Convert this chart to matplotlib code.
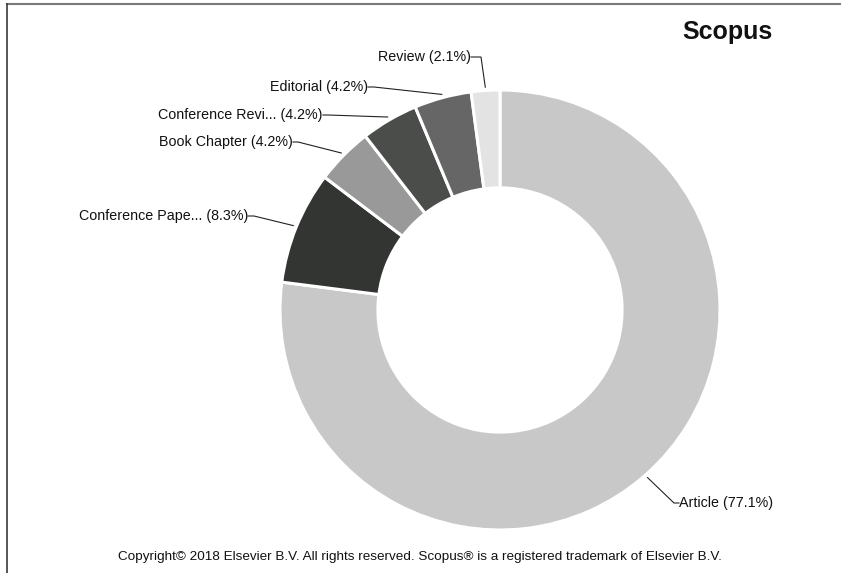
import numpy as np
import matplotlib
matplotlib.use("Agg")
import matplotlib.pyplot as plt
from matplotlib.lines import Line2D

plt.rcParams['font.family'] = ['Liberation Sans', 'DejaVu Sans']

# ---- data ----
categories = ["Article", "Conference Pape...", "Book Chapter",
              "Conference Revi...", "Editorial", "Review"]
percentages = [77.1, 8.3, 4.2, 4.2, 4.2, 2.1]
colors = ["#c8c8c8", "#333533", "#999999", "#4b4d4b", "#666666", "#e3e3e3"]
title = "Scopus"
footer = ("Copyright\u00a9 2018 Elsevier B.V. All rights reserved. "
          "Scopus\u00ae is a registered trademark of Elsevier B.V.")

W, H, DPI = 841, 573, 100
fig = plt.figure(figsize=(W / DPI, H / DPI), dpi=DPI)
ax = fig.add_axes([0, 0, 1, 1])

# pixel layout: centre (500, 310), outer radius 220 px
CX, CY, RPX = 500, 310, 220

def px(x, y):
    return ((x - CX) / RPX, (CY - y) / RPX)

wedges, _ = ax.pie(percentages, colors=colors, startangle=90, counterclock=False,
                   radius=1.0, normalize=True,
                   wedgeprops=dict(width=0.445, edgecolor="white", linewidth=2.2))
ax.set_xlim(-CX / RPX, (W - CX) / RPX)
ax.set_ylim(-(H - CY) / RPX, CY / RPX)
ax.set_aspect('auto')
ax.set_axis_off()

# label layout (pixel positions of text anchor, elbow)
layout = [
    # (text_x, text_y, ha, elbow_x, elbow_y)
    (679, 503, "left", 674, 503),
    (248, 216, "right", 254, 216),
    (293, 142, "right", 298, 142),
    (323, 115, "right", 328, 115),
    (368, 87, "right", 374, 87),
    (471, 57, "right", 481, 57),
]

total = sum(percentages)
cum = 0.0
for cat, val, (tx, ty, ha, ex, ey) in zip(categories, percentages, layout):
    mid = (cum + val / 2) / total * 2 * np.pi
    cum += val
    r0 = 1.015
    sx, sy = r0 * np.sin(mid), r0 * np.cos(mid)
    exd, eyd = px(ex, ey)
    txd, tyd = px(tx, ty)
    ax.plot([sx, exd, txd], [sy, eyd, tyd], color="#222222", lw=0.8,
            solid_joinstyle="miter")
    ax.text(txd, tyd, f"{cat} ({val:.1f}%)", ha=ha, va="center",
            fontsize=10.3, color="#111111")

# title and footer
fig.text(727 / W, 1 - 32 / H, title, ha="center", va="center",
         fontsize=18, fontweight="bold", color="#111111")
fig.text(420 / W, 1 - 557 / H, footer, ha="center", va="center",
         fontsize=9.7, color="#111111")

# frame lines (top and left)
fig.add_artist(Line2D([7 / W, 1.0], [1 - 4 / H, 1 - 4 / H],
                      transform=fig.transFigure, color="#7a7a7a", lw=1.5))
fig.add_artist(Line2D([7 / W, 7 / W], [0, 1 - 4 / H],
                      transform=fig.transFigure, color="#3a3a3a", lw=1.2))

fig.savefig("out.png", dpi=DPI, facecolor="white")
